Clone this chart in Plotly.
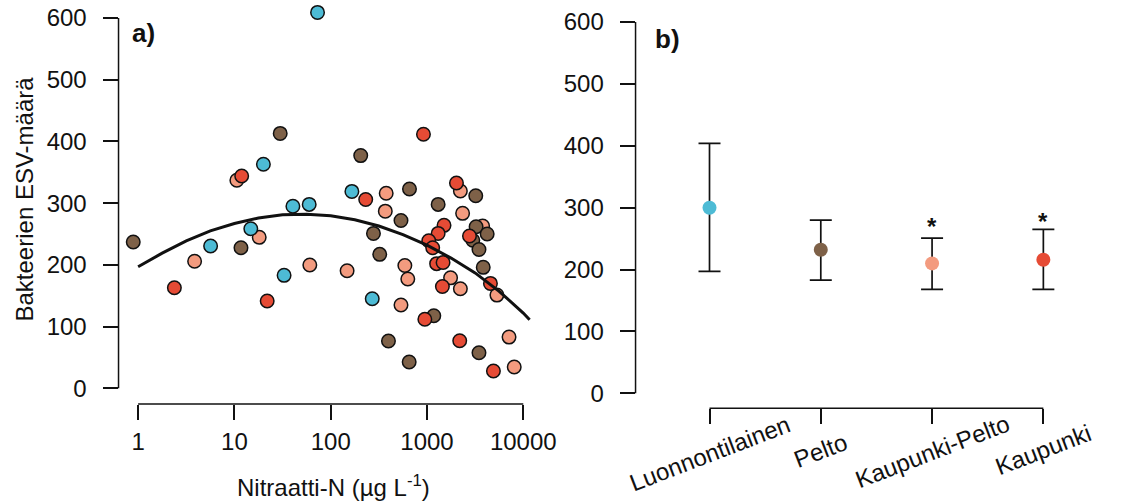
import plotly.graph_objects as go
import math

W, H = 1126, 502
FONT = "Liberation Sans, Arial, Helvetica, sans-serif"

# ---------- panel a) data ----------
blue_x = [73, 20, 40.5, 59.8, 14.8, 5.66, 32.8, 166, 270]
blue_y = [609, 363, 295, 298, 258.6, 230.6, 183, 319, 145]

brown_x = [29.9, 0.89, 11.7, 205, 658, 537, 278, 323, 398, 653, 3210, 1306, 1177,
           3467, 3236, 4217, 2992, 3467, 3838]
brown_y = [413, 237, 227.8, 377, 323, 272, 251, 217, 76.6, 42.6, 312, 298, 117.6,
           57.7, 261.8, 250, 240, 225, 196]

salmon_x = [10.6, 18.1, 3.86, 60.7, 377, 369, 148, 589, 632, 537, 2222, 2344, 1758,
            2222, 8054, 7115, 3784, 5324]
salmon_y = [337, 244.6, 205.8, 199.8, 316, 287, 190.5, 199, 177, 135, 319.7, 283.5, 179,
            161.4, 34.5, 83, 263, 151]

red_x = [11.9, 2.38, 21.9, 231, 919, 2024, 1503, 1306, 1043, 1146, 1259, 1469, 1446,
         950, 2188, 4898, 2763, 4560]
red_y = [344, 163, 141.4, 306, 411.5, 332.6, 264, 251, 239, 227.8, 202, 204, 165,
         111.8, 77, 28, 246.8, 170]

# fitted curve
curve_x = [1, 1.778, 3.162, 5.623, 10, 17.78, 31.62, 56.23, 100, 177.8, 316.2, 562.3,
           1000, 1778, 3162, 5623, 10000, 11640]
curve_y = [197, 219, 239, 255, 267, 276, 281, 282, 279.5, 273, 263, 249,
           232, 211, 187, 157, 122, 111]

x_ticks = [1, 10, 100, 1000, 10000]
x_ticktext = ["1", "10", "100", "1000", "10000"]
y_ticks = [0, 100, 200, 300, 400, 500, 600]

# ---------- panel b) data ----------
groups = ["Luonnontilainen", "Pelto", "Kaupunki-Pelto", "Kaupunki"]
group_pos = [1, 2, 3, 4]
means = [300, 232, 210, 216]
upper = [404, 280, 251, 265]
lower = [197, 183, 168, 168]
star_groups = [3, 4]
star_y = [277, 286]

C_BLUE, C_BROWN, C_SALMON, C_RED = "#4DBBD5", "#7E6148", "#F39B7F", "#E64B35"
group_colors = [C_BLUE, C_BROWN, C_SALMON, C_RED]
INK = "#111111"

# ---------- layout geometry (pixels) ----------
ax_l, ax_r = 121, 545
x1_range = [-0.2035, 4.110]
ay_bot, ay_top = 404.0, 0.0
y1_range = [-25.4, 629.1]

bx_l, bx_r = 648.8, 1126
x2_range = [0.3354, 4.536]
by_bot, by_top = 408.3, 0.0
y2_range = [-24.2, 635.7]


def pxx(p):
    return p / W


def pxy(p):
    return 1 - p / H


fig = go.Figure()

mk = dict(size=13.5, line=dict(color=INK, width=1.5))
for xs, ys, col in [(salmon_x, salmon_y, C_SALMON), (brown_x, brown_y, C_BROWN),
                    (red_x, red_y, C_RED), (blue_x, blue_y, C_BLUE)]:
    fig.add_trace(go.Scatter(x=xs, y=ys, mode="markers", xaxis="x", yaxis="y",
                             marker=dict(color=col, **mk), showlegend=False,
                             cliponaxis=False))

fig.add_trace(go.Scatter(x=curve_x, y=curve_y, mode="lines", xaxis="x", yaxis="y",
                         line=dict(color=INK, width=3), showlegend=False,
                         cliponaxis=False))

fig.add_trace(go.Scatter(
    x=group_pos, y=means, mode="markers", xaxis="x2", yaxis="y2",
    marker=dict(color=group_colors, size=14),
    error_y=dict(type="data", symmetric=False,
                 array=[u - m for u, m in zip(upper, means)],
                 arrayminus=[m - l for m, l in zip(means, lower)],
                 color=INK, thickness=1.7, width=11),
    showlegend=False))

tickfont = dict(family=FONT, size=24, color=INK)
common = dict(showgrid=False, zeroline=False, showline=False, ticks="outside",
              ticklen=15, tickwidth=1.5, tickcolor=INK, tickfont=tickfont)

fig.update_layout(
    width=W, height=H, margin=dict(l=0, r=0, t=0, b=0),
    paper_bgcolor="white", plot_bgcolor="white",
    font=dict(family=FONT, color=INK),
    xaxis=dict(type="log", range=x1_range, domain=[pxx(ax_l), pxx(ax_r)], anchor="y",
               tickvals=x_ticks, ticktext=x_ticktext, ticklabelstandoff=1, **common),
    yaxis=dict(range=y1_range, domain=[pxy(ay_bot), pxy(ay_top)], anchor="x",
               tickvals=y_ticks, ticklabelstandoff=11, **common),
    xaxis2=dict(range=x2_range, domain=[pxx(bx_l), pxx(bx_r)], anchor="y2",
                tickvals=group_pos, showticklabels=False, **common),
    yaxis2=dict(range=y2_range, domain=[pxy(by_bot), pxy(by_top)], anchor="x2",
                tickvals=y_ticks, ticklabelstandoff=11, **common),
)

# axis lines drawn only between first and last tick (R style)
lw = dict(color=INK, width=1.5)


def logx_paper(v):
    f = (math.log10(v) - x1_range[0]) / (x1_range[1] - x1_range[0])
    return pxx(ax_l) + f * (pxx(ax_r) - pxx(ax_l))


fig.add_shape(type="line", xref="paper", yref="y domain",
              x0=logx_paper(x_ticks[0]), x1=logx_paper(x_ticks[-1]), y0=0, y1=0, line=lw)
fig.add_shape(type="line", xref="x domain", yref="y", x0=0, x1=0,
              y0=y_ticks[0], y1=y_ticks[-1], line=lw)
fig.add_shape(type="line", xref="x2", yref="y2 domain", x0=group_pos[0], x1=group_pos[-1],
              y0=0, y1=0, line=lw)
fig.add_shape(type="line", xref="x2 domain", yref="y2", x0=0, x1=0,
              y0=y_ticks[0], y1=y_ticks[-1], line=lw)

ann = dict(showarrow=False, xanchor="center", yanchor="middle")

# titles
fig.add_annotation(text="Nitraatti-N (µg L<sup>-1</sup>)", xref="paper", yref="paper",
                   x=pxx(340), y=pxy(486), font=dict(family=FONT, size=24, color=INK), **ann)
fig.add_annotation(text="Bakteerien ESV-määrä", xref="paper", yref="paper",
                   x=pxx(24), y=pxy(199), textangle=-90,
                   font=dict(family=FONT, size=24, color=INK), **ann)
fig.add_annotation(text="<b>a)</b>", xref="paper", yref="paper", x=pxx(147), y=pxy(33),
                   font=dict(family=FONT, size=26, color=INK), **ann)
fig.add_annotation(text="<b>b)</b>", xref="paper", yref="paper", x=pxx(681), y=pxy(39),
                   font=dict(family=FONT, size=26, color=INK), **ann)

# category labels (rotated)
label_y = [453, 450, 451.5, 449]
for g, p, ly in zip(groups, group_pos, label_y):
    fig.add_annotation(text=g, xref="x2", yref="paper", x=p, y=pxy(ly), textangle=-21,
                       font=dict(family=FONT, size=24, color=INK), **ann)

# significance stars
for g, sy in zip(star_groups, star_y):
    fig.add_annotation(text="<b>*</b>", xref="x2", yref="y2", x=g, y=sy, yshift=-5,
                       font=dict(family=FONT, size=24, color=INK), **ann)

fig.write_html("out.html", config={"displayModeBar": False},
               post_script="document.body.style.margin='0px';")
